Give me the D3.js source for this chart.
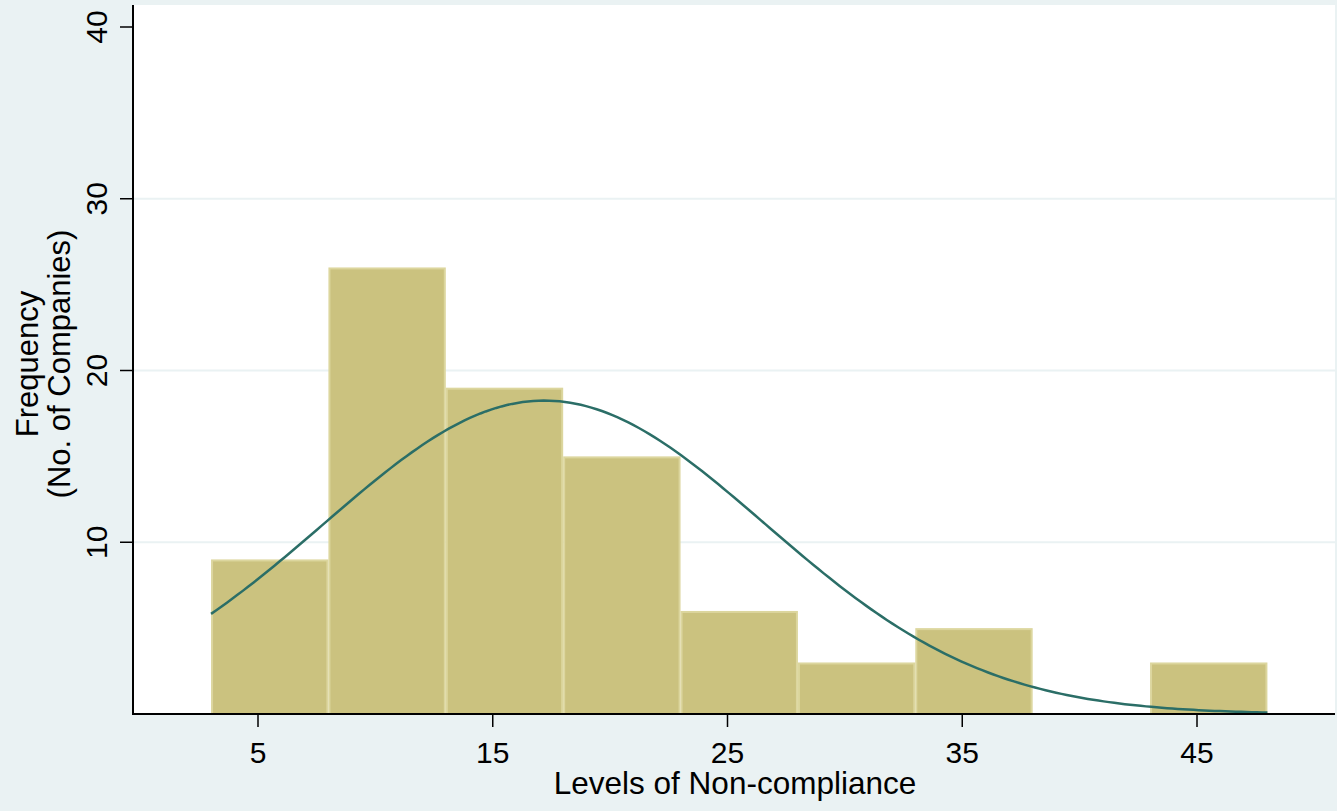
<!DOCTYPE html>
<html>
<head>
<meta charset="utf-8">
<script src="https://cdn.jsdelivr.net/npm/d3@7"></script>
<style>
  html, body { margin: 0; padding: 0; background: #eaf2f3; }
  svg { display: block; font-family: 'Liberation Sans', Arial, sans-serif; }
</style>
</head>
<body>
<div id="chart"></div>
<script>
// histogram bins (lower edge, width 5) and counts
const binStarts = [3, 8, 13, 18, 23, 28, 33, 38, 43]
const binWidth = 5
const counts = [9, 26, 19, 15, 6, 3, 5, 0, 3]
const xTicks = [5, 15, 25, 35, 45]
const yTicks = [10, 20, 30, 40]
const gridTicks = [10, 20, 30]

// fitted normal curve parameters
const normalMean = 17.2
const normalSd = 9.4

const width = 1337
const height = 811

const svg = d3.select('#chart').append('svg')
  .attr('width', width)
  .attr('height', height)

const x = d3.scaleLinear().domain([5, 45]).range([258, 1197])
const y = d3.scaleLinear().domain([0, 40]).range([714, 27])

const plot = { left: 133, right: 1335, top: 5, bottom: 714 }

svg.append('rect')
  .attr('x', plot.left).attr('y', plot.top)
  .attr('width', plot.right - plot.left).attr('height', plot.bottom - plot.top)
  .attr('fill', '#fff')

svg.append('g').selectAll('line').data(gridTicks).join('line')
  .attr('x1', plot.left).attr('x2', plot.right)
  .attr('y1', (d) => y(d)).attr('y2', (d) => y(d))
  .attr('stroke', '#eaf2f3').attr('stroke-width', 2)

const bins = binStarts.map((s, i) => ({ x0: s, x1: s + binWidth, n: counts[i] }))

svg.append('g').selectAll('rect').data(bins.filter((d) => d.n > 0)).join('rect')
  .attr('x', (d) => x(d.x0) + 1)
  .attr('y', (d) => y(d.n) + 1)
  .attr('width', (d) => x(d.x1) - x(d.x0) - 2)
  .attr('height', (d) => y(0) - y(d.n) - 1)
  .attr('fill', '#cbc27f')
  .attr('stroke', '#dcd69e')
  .attr('stroke-width', 2)

// normal density scaled to frequency
const total = d3.sum(counts)
const lo = binStarts[0]
const hi = binStarts[binStarts.length - 1] + binWidth
const curve = d3.range(0, 201).map((i) => {
  const v = lo + (hi - lo) * i / 200
  const z = (v - normalMean) / normalSd
  return [v, total * binWidth * Math.exp(-0.5 * z * z) / (normalSd * Math.sqrt(2 * Math.PI))]
})

svg.append('path')
  .datum(curve)
  .attr('d', d3.line().x((d) => x(d[0])).y((d) => y(d[1])))
  .attr('fill', 'none')
  .attr('stroke', '#2b6e67')
  .attr('stroke-width', 2.5)

// axes
svg.append('line')
  .attr('x1', plot.left).attr('x2', plot.left)
  .attr('y1', plot.top).attr('y2', plot.bottom)
  .attr('stroke', '#000').attr('stroke-width', 2)
svg.append('line')
  .attr('x1', plot.left - 1).attr('x2', plot.right)
  .attr('y1', plot.bottom).attr('y2', plot.bottom)
  .attr('stroke', '#000').attr('stroke-width', 2)

const yt = svg.append('g').selectAll('g').data(yTicks).join('g')
  .attr('transform', (d) => `translate(0,${y(d)})`)
yt.append('line').attr('x1', 120).attr('x2', plot.left).attr('stroke', '#000').attr('stroke-width', 1.5)
yt.append('text')
  .attr('transform', 'translate(107,0) rotate(-90)')
  .attr('text-anchor', 'middle')
  .attr('font-size', 30)
  .text((d) => d)

const xt = svg.append('g').selectAll('g').data(xTicks).join('g')
  .attr('transform', (d) => `translate(${x(d)},0)`)
xt.append('line').attr('y1', plot.bottom).attr('y2', 727).attr('stroke', '#000').attr('stroke-width', 1.5)
xt.append('text')
  .attr('y', 763)
  .attr('text-anchor', 'middle')
  .attr('font-size', 30)
  .text((d) => d)

svg.append('text')
  .attr('x', 735).attr('y', 794)
  .attr('text-anchor', 'middle')
  .attr('font-size', 31.5)
  .text('Levels of Non-compliance')

const yTitle = svg.append('text')
  .attr('transform', 'translate(0,364) rotate(-90)')
  .attr('text-anchor', 'middle')
  .attr('font-size', 31)
yTitle.append('tspan').attr('x', 0).attr('y', 38).text('Frequency')
yTitle.append('tspan').attr('x', 0).attr('y', 70).text('(No. of Companies)')
</script>
</body>
</html>
